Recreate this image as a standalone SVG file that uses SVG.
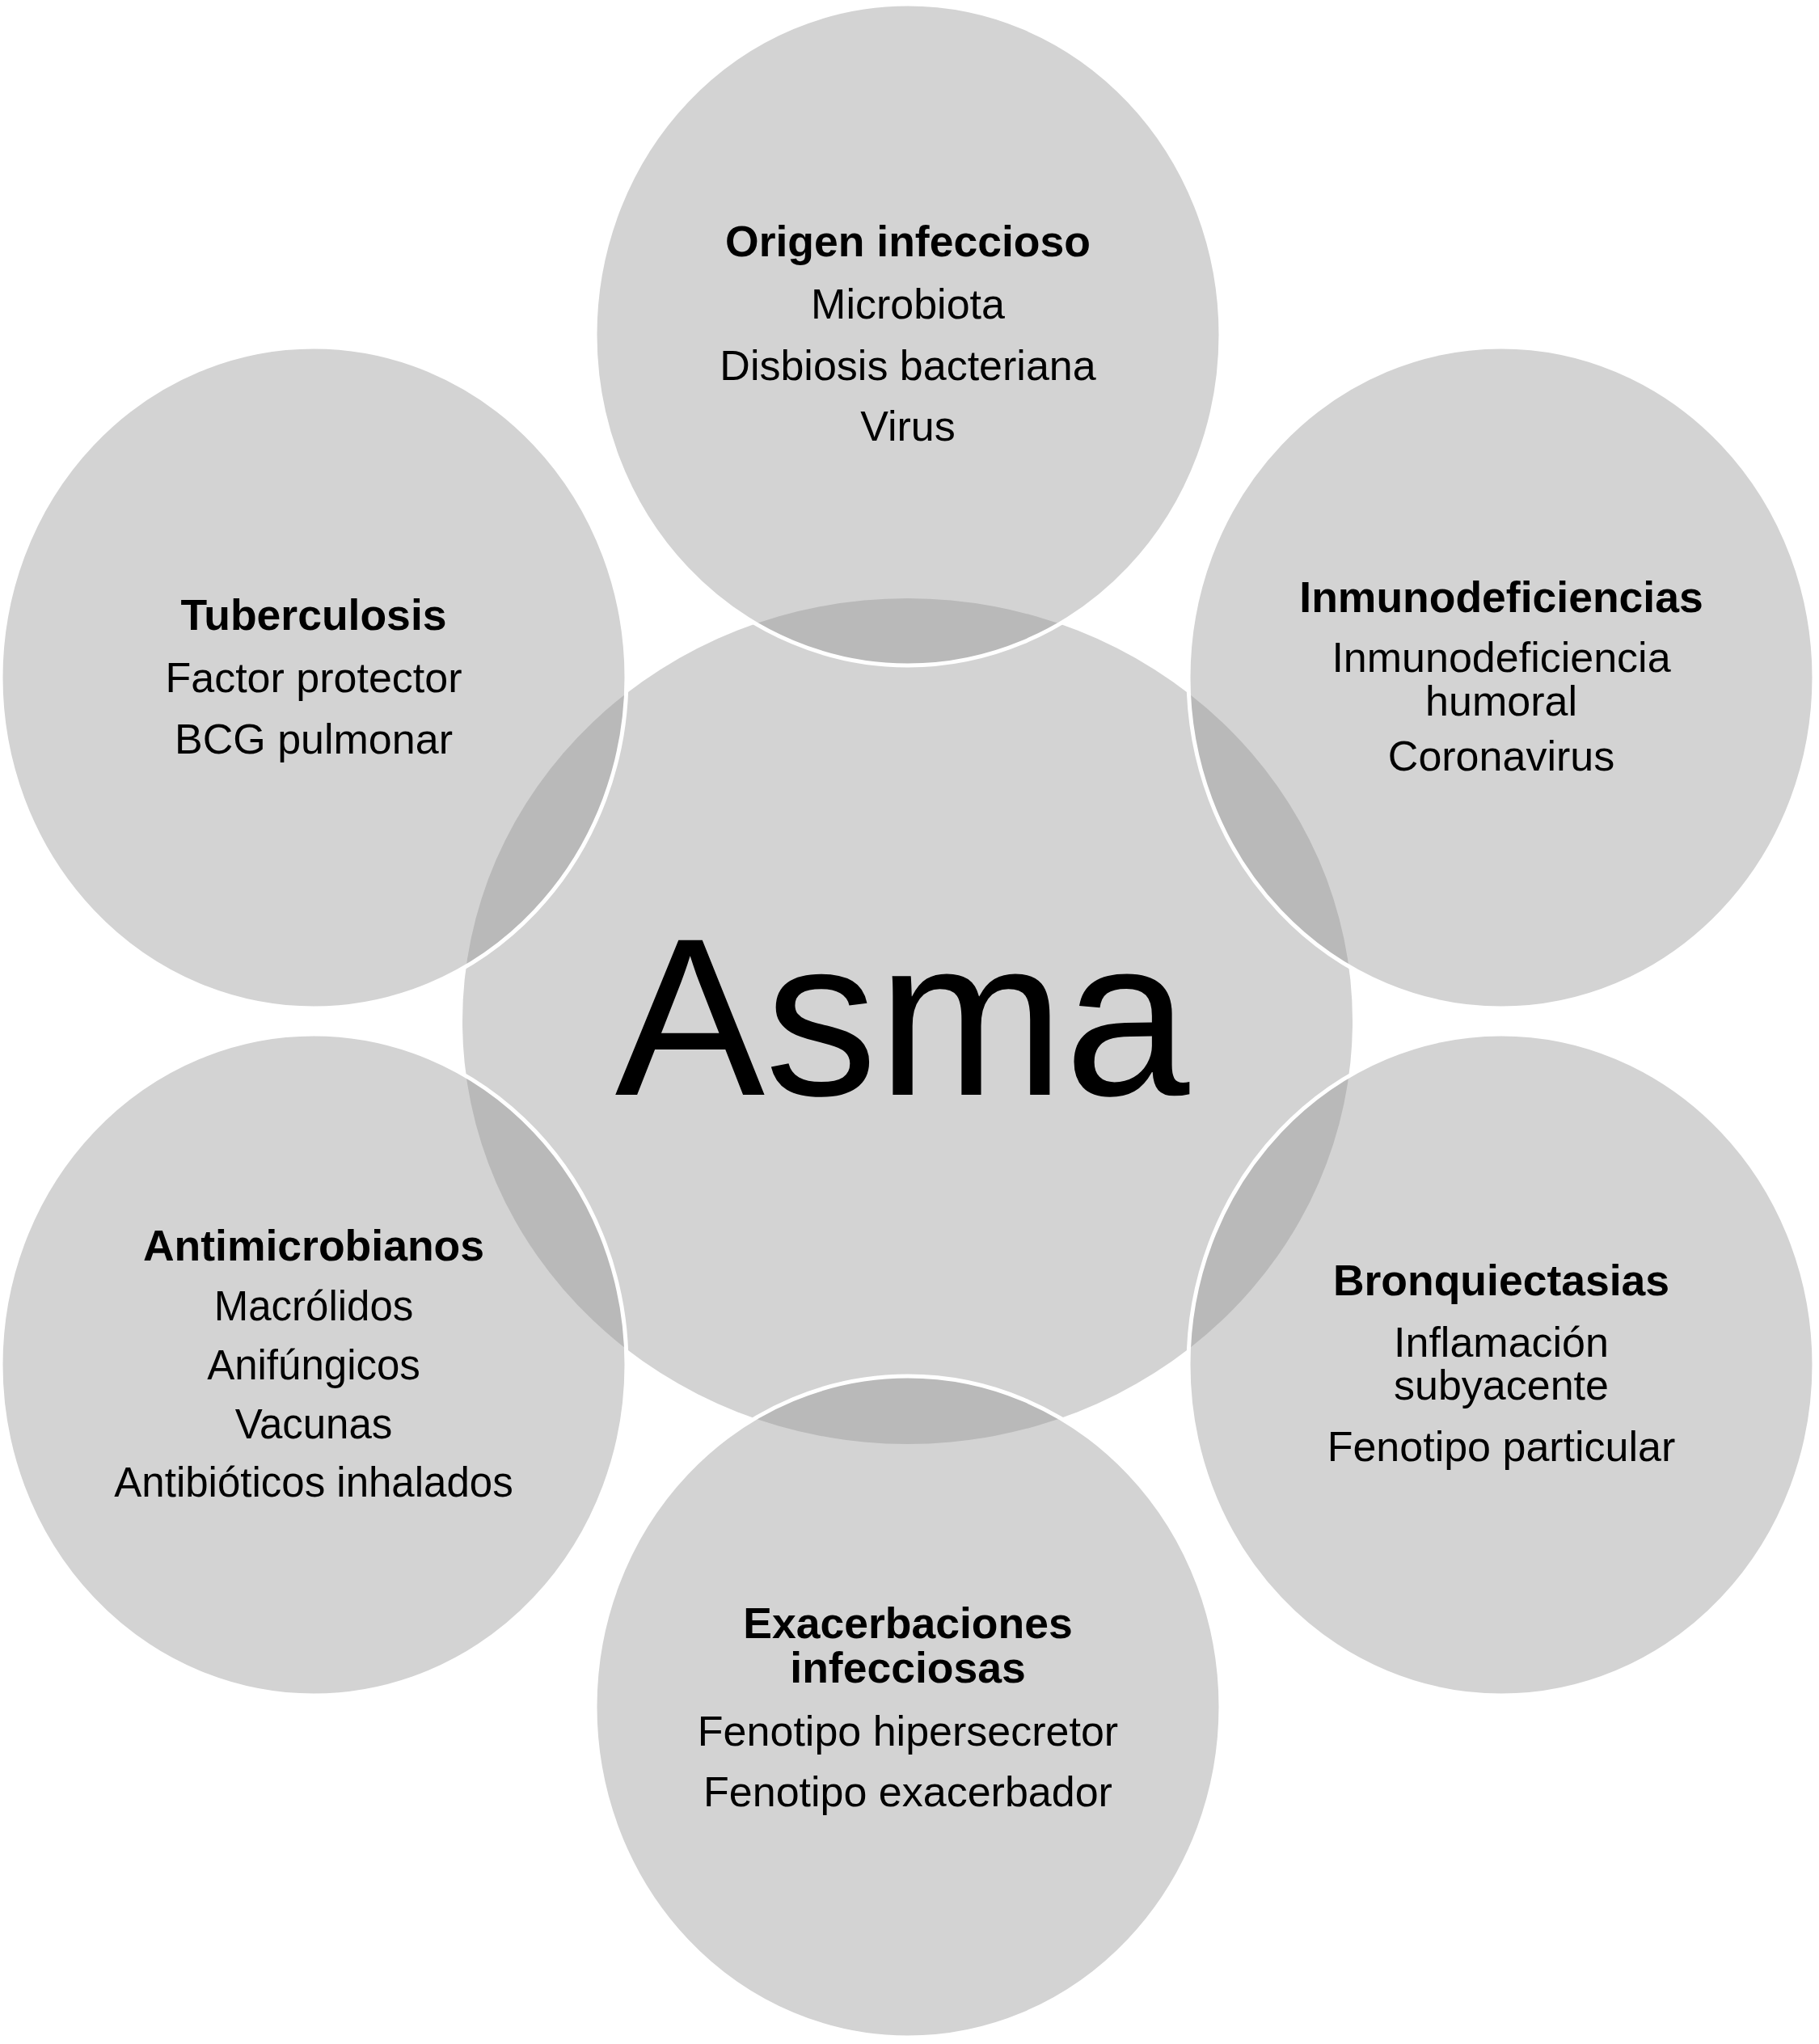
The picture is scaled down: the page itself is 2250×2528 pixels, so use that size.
<svg xmlns="http://www.w3.org/2000/svg" width="2250" height="2528" viewBox="0 0 2250 2528">
<style>
  .bg { fill: #ffffff; }
  .hub { fill: #d3d3d3; }
  .sat { fill: #939393; fill-opacity: 0.41; stroke: #ffffff; stroke-width: 5; }
  text { font-family: "Liberation Sans", Arial, sans-serif; fill: #000000; text-anchor: middle; }
  .t { font-size: 53.5px; font-weight: bold; }
  .s { font-size: 52px; }
  .s2 { font-size: 51px; }
  .big { font-size: 278px; }
</style>
<rect class="bg" x="0" y="0" width="2250" height="2528"/>
<g id="connectors"/>
<g id="node-asma">
  <ellipse class="hub" cx="1122.5" cy="1263" rx="550.5" ry="523"/>
  <text class="big" x="1116" y="1354">Asma</text>
</g>
<g id="node-origen">
  <ellipse class="sat" cx="1123" cy="414" rx="387" ry="409"/>
  <text class="t" x="1123" y="317">Origen infeccioso</text>
  <text class="s" x="1123" y="394">Microbiota</text>
  <text class="s" x="1123" y="470">Disbiosis bacteriana</text>
  <text class="s" x="1123" y="545">Virus</text>
</g>
<g id="node-inmuno">
  <ellipse class="sat" cx="1857" cy="838" rx="387" ry="409"/>
  <text class="t" x="1857" y="757">Inmunodeficiencias</text>
  <text class="s" x="1857" y="831">Inmunodeficiencia</text>
  <text class="s" x="1857" y="885">humoral</text>
  <text class="s" x="1857" y="953">Coronavirus</text>
</g>
<g id="node-bronq">
  <ellipse class="sat" cx="1857" cy="1688" rx="387" ry="409"/>
  <text class="t" x="1857" y="1602">Bronquiectasias</text>
  <text class="s" x="1857" y="1678">Inflamación</text>
  <text class="s" x="1857" y="1731">subyacente</text>
  <text class="s" x="1857" y="1807">Fenotipo particular</text>
</g>
<g id="node-exacerb">
  <ellipse class="sat" cx="1123" cy="2111" rx="387" ry="409"/>
  <text class="t" x="1123" y="2026">Exacerbaciones</text>
  <text class="t" x="1123" y="2081">infecciosas</text>
  <text class="s" x="1123" y="2159">Fenotipo hipersecretor</text>
  <text class="s" x="1123" y="2234">Fenotipo exacerbador</text>
</g>
<g id="node-antimicro">
  <ellipse class="sat" cx="388" cy="1688" rx="387" ry="409"/>
  <text class="t" x="388" y="1559">Antimicrobianos</text>
  <text class="s2" x="388" y="1633">Macrólidos</text>
  <text class="s2" x="388" y="1706">Anifúngicos</text>
  <text class="s2" x="388" y="1779">Vacunas</text>
  <text class="s2" x="388" y="1851">Antibióticos inhalados</text>
</g>
<g id="node-tuberc">
  <ellipse class="sat" cx="388" cy="838" rx="387" ry="409"/>
  <text class="t" x="388" y="779">Tuberculosis</text>
  <text class="s" x="388" y="856">Factor protector</text>
  <text class="s" x="388" y="932">BCG pulmonar</text>
</g>
</svg>
